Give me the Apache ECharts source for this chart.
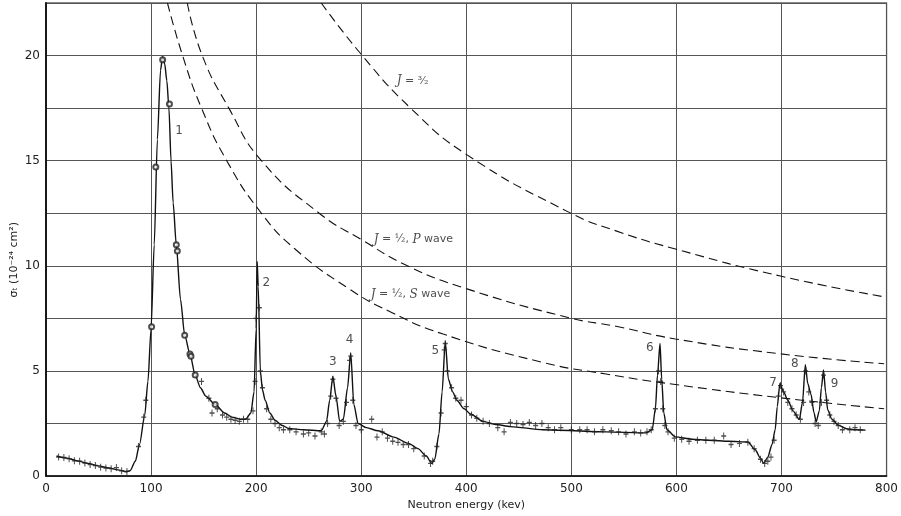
<!DOCTYPE html>
<html>
<head>
<meta charset="utf-8">
<script src="https://cdn.jsdelivr.net/npm/echarts@6/dist/echarts.min.js"></script>
<style>
  html, body { margin: 0; padding: 0; background: #fff; }
  #chart { width: 901px; height: 516px; }
</style>
</head>
<body>
<div id="chart"></div>
<script>
// axis ticks
var yTickLabels = [0, 5, 10, 15, 20]

// fitted curve through the measurements (energy keV, sigma)
var curveE = [10, 20, 30, 40, 50, 60, 70, 76, 80, 85, 89, 94, 97, 100, 103, 106, 109, 111, 113, 115, 117, 119, 121, 124, 128, 132, 137, 142, 147, 152, 161, 170, 177, 185, 190, 195, 198, 200, 201, 202, 204, 206, 208.6, 213, 218, 225, 231, 245, 262, 267, 270, 273, 276, 279.5, 283, 287, 290, 293, 297, 305, 316, 331, 345, 354, 362, 367, 370, 374, 377, 380, 383, 387, 391, 398, 404, 416, 428, 442, 473, 533, 571, 577, 580, 582, 584.4, 586, 588, 591, 599, 615, 631, 650, 668, 675, 680, 683, 687, 691, 694, 696, 698.5, 702, 706, 711, 717, 720, 722.7, 725, 728, 731, 733, 736, 738, 740, 742, 744, 748, 754, 762, 770, 780]
var curveS = [0.95, 0.85, 0.72, 0.6, 0.48, 0.38, 0.28, 0.2, 0.25, 0.7, 1.5, 2.9, 4.5, 7.0, 11, 16, 19.3, 19.95, 19.6, 18.8, 17.5, 15, 13, 11, 8.4, 6.7, 5.8, 4.8, 4.2, 3.8, 3.4, 3.0, 2.8, 2.7, 2.7, 3.0, 4.0, 7.0, 10.2, 9, 5.0, 4.1, 3.6, 3.0, 2.65, 2.4, 2.26, 2.2, 2.15, 2.6, 3.6, 4.73, 3.8, 2.6, 2.7, 4.2, 5.85, 3.4, 2.5, 2.3, 2.15, 1.85, 1.55, 1.3, 0.95, 0.6, 0.8, 2.0, 4.0, 6.4, 4.6, 4.0, 3.6, 3.2, 2.95, 2.6, 2.45, 2.35, 2.2, 2.1, 2.05, 2.2, 3.2, 4.8, 6.3, 4.6, 3.0, 2.2, 1.86, 1.75, 1.7, 1.65, 1.62, 1.25, 0.85, 0.6, 0.9, 1.5, 2.2, 3.3, 4.4, 4.0, 3.6, 3.1, 2.7, 3.5, 5.3, 4.4, 3.9, 3.0, 2.58, 3.1, 4.2, 5.05, 4.0, 3.14, 2.7, 2.42, 2.25, 2.2, 2.18]

// measured points (crosses)
var measE = [12, 17, 22, 27, 32, 37, 42, 47, 52, 57, 62, 67, 72, 77, 88, 93, 95, 148, 155, 158, 163, 168, 172, 176, 180, 184, 188, 192, 197, 199, 200, 203, 204, 206, 210, 214, 218, 222, 226, 232, 238, 245, 250, 256, 262, 265, 268, 271, 273, 276, 279, 283, 286, 289, 290, 292, 295, 300, 310, 315, 320, 325, 330, 335, 340, 345, 350, 360, 366, 368, 372, 376, 379, 380, 382, 386, 390, 395, 400, 405, 410, 416, 422, 430, 436, 442, 448, 454, 460, 466, 472, 478, 484, 490, 500, 508, 515, 522, 530, 538, 545, 552, 560, 566, 572, 576, 580, 583, 585, 587, 589, 592, 598, 605, 612, 620, 628, 636, 645, 652, 660, 668, 674, 680, 684, 687, 690, 693, 697, 699, 702, 706, 710, 714, 718, 721, 723, 726, 729, 732, 735, 738, 740, 743, 746, 750, 754, 758, 765, 770, 775]
var measS = [0.9, 0.88, 0.82, 0.72, 0.7, 0.62, 0.55, 0.5, 0.42, 0.38, 0.35, 0.4, 0.25, 0.22, 1.4, 2.8, 3.6, 4.5, 3.7, 3.0, 3.2, 2.9, 2.8, 2.7, 2.65, 2.6, 2.7, 2.7, 3.1, 4.5, 7.5, 8.0, 5.0, 4.2, 3.2, 2.7, 2.5, 2.3, 2.2, 2.2, 2.1, 2.0, 2.05, 1.9, 2.1, 2.0, 2.5, 3.8, 4.6, 3.7, 2.4, 2.6, 3.5, 5.5, 5.7, 3.6, 2.4, 2.2, 2.7, 1.85, 2.1, 1.8, 1.65, 1.6, 1.5, 1.5, 1.3, 0.95, 0.6, 0.7, 1.4, 3.0, 6.0, 6.3, 5.0, 4.2, 3.7, 3.6, 3.3, 2.9, 2.75, 2.6, 2.5, 2.3, 2.1, 2.55, 2.5, 2.45, 2.55, 2.4, 2.5, 2.3, 2.2, 2.3, 2.2, 2.2, 2.2, 2.1, 2.2, 2.15, 2.1, 2.0, 2.1, 2.05, 2.1, 2.2, 3.2, 5.0, 4.5, 3.2, 2.4, 2.1, 1.8, 1.75, 1.65, 1.7, 1.7, 1.7, 1.9, 1.5, 1.55, 1.6, 1.3, 0.8, 0.6, 0.7, 0.9, 1.7, 3.8, 4.3, 4.0, 3.5, 3.2, 2.9, 2.7, 3.5, 5.0, 4.0, 3.5, 2.5, 2.4, 3.5, 4.8, 3.6, 2.9, 2.6, 2.4, 2.2, 2.2, 2.3, 2.2]

// open circles near resonance 1
var circE = [100.5, 104.5, 111, 117.5, 124, 125, 132, 137, 138, 142, 161]
var circS = [7.1, 14.7, 19.8, 17.7, 11, 10.7, 6.7, 5.8, 5.7, 4.8, 3.4]

// theoretical maximum curves
var j32E = [262, 301, 347, 400, 498, 542.5, 599, 699, 798]
var j32S = [22.5, 20, 17.5, 15.3, 12.54, 11.66, 10.8, 9.51, 8.52]
var pWaveE = [134.5, 148.7, 174, 205, 260, 300, 344, 397.6, 498.4, 542.5, 599, 699, 797.7]
var pWaveS = [22.5, 20, 17.5, 15, 12.5, 11.25, 10, 8.95, 7.52, 7.12, 6.52, 5.81, 5.34]
var sWaveE = [115.6, 130, 148, 172, 205, 237, 287, 328, 378, 473, 533, 599, 699, 797.7]
var sWaveS = [22.5, 20, 17.5, 15, 12.5, 10.8, 8.95, 7.8, 6.75, 5.4, 4.85, 4.35, 3.72, 3.2]

// resonance numbers
var peakNames = ['1', '2', '3', '4', '5', '6', '7', '8', '9']
var peakE = [126.7, 209.8, 273, 289, 370.5, 574.7, 692, 712.7, 750.5]
var peakS = [16.4, 9.2, 5.43, 6.48, 5.96, 6.1, 4.43, 5.34, 4.38]

function zip (a, b) {
  return a.map(function (v, i) { return [v, b[i]] })
}

var chart = echarts.init(document.getElementById('chart'))
var gridColor = '#555'
var dashStyle = {color: '#111', width: 1.1, type: [9, 5]}
var plusPath = 'path://M4,0 L6,0 L6,4 L10,4 L10,6 L6,6 L6,10 L4,10 L4,6 L0,6 L0,4 L4,4 Z'

var option = {
  backgroundColor: '#fff',
  animation: false,
  grid: {left: 46, right: 11, top: 3, bottom: 40, show: true, borderColor: '#111', borderWidth: 1.2},
  xAxis: {
    type: 'value',
    min: 0,
    max: 800,
    interval: 100,
    name: 'Neutron energy (kev)',
    nameLocation: 'middle',
    nameGap: 24,
    nameTextStyle: {fontFamily: 'DejaVu Sans', fontSize: 11, color: '#222'},
    axisLine: {show: true, lineStyle: {color: '#111', width: 1.5}},
    axisTick: {show: false},
    axisLabel: {fontFamily: 'DejaVu Sans', fontSize: 12, color: '#222', margin: 7},
    splitLine: {show: true, lineStyle: {color: gridColor, width: 1}}
  },
  yAxis: {
    type: 'value',
    min: 0,
    max: 22.5,
    interval: 2.5,
    axisLine: {show: true, lineStyle: {color: '#111', width: 1.8}},
    axisTick: {show: false},
    axisLabel: {
      fontFamily: 'DejaVu Sans',
      fontSize: 12,
      color: '#222',
      margin: 6,
      formatter: function (v) {
        return yTickLabels.indexOf(v) >= 0 ? String(v) : ''
      }
    },
    splitLine: {show: true, lineStyle: {color: gridColor, width: 1}}
  },
  graphic: [{
    type: 'text',
    left: 9,
    top: 222,
    rotation: Math.PI / 2,
    style: {
      text: 'σₜ (10⁻²⁴ cm²)',
      fontFamily: 'DejaVu Sans',
      fontSize: 11,
      fill: '#222'
    }
  }],
  series: [
    {
      name: 'J=3/2',
      type: 'line',
      data: zip(j32E, j32S),
      smooth: 0.5,
      symbol: 'none',
      lineStyle: dashStyle,
      z: 3
    },
    {
      name: 'P wave',
      type: 'line',
      data: zip(pWaveE, pWaveS),
      smooth: 0.5,
      symbol: 'none',
      lineStyle: dashStyle,
      z: 3
    },
    {
      name: 'S wave',
      type: 'line',
      data: zip(sWaveE, sWaveS),
      smooth: 0.5,
      symbol: 'none',
      lineStyle: dashStyle,
      z: 3
    },
    {
      name: 'fit',
      type: 'line',
      data: zip(curveE, curveS),
      smooth: 0.25,
      smoothMonotone: 'x',
      symbol: 'none',
      lineStyle: {color: '#111', width: 1.4},
      z: 4
    },
    {
      name: 'measured',
      type: 'scatter',
      data: zip(measE, measS),
      symbol: plusPath,
      symbolSize: [5, 7],
      itemStyle: {color: '#222'},
      z: 5
    },
    {
      name: 'circles',
      type: 'scatter',
      data: zip(circE, circS),
      symbol: 'emptyCircle',
      symbolSize: 5,
      itemStyle: {color: '#222', borderWidth: 0.9},
      z: 6
    },
    {
      name: 'peaks',
      type: 'scatter',
      data: peakE.map(function (e, i) { return [e, peakS[i], peakNames[i]] }),
      symbolSize: 0,
      silent: true,
      label: {
        show: true,
        position: 'inside',
        formatter: function (p) { return p.data[2] },
        fontFamily: 'DejaVu Sans',
        fontSize: 12,
        color: '#222'
      },
      z: 7
    },
    {
      name: 'captions',
      type: 'scatter',
      symbolSize: 0,
      silent: true,
      data: [
        {value: [348.8, 18.8], label: {formatter: '{i|J} = {f|³⁄₂}'}},
        {value: [349.7, 11.25], label: {formatter: '{i|J} = {f|½}, {i|P} wave'}},
        {value: [346.9, 8.63], label: {formatter: '{i|J} = {f|½}, {i|S} wave'}}
      ],
      label: {
        show: true,
        position: 'inside',
        fontFamily: 'DejaVu Sans',
        fontSize: 11,
        color: '#222',
        rich: {
          i: {fontFamily: 'DejaVu Serif', fontStyle: 'italic', fontSize: 12, color: '#222'},
          f: {fontFamily: 'DejaVu Serif', fontSize: 11, color: '#222'}
        }
      },
      z: 7
    }
  ]
}

chart.setOption(option)
</script>
</body>
</html>
